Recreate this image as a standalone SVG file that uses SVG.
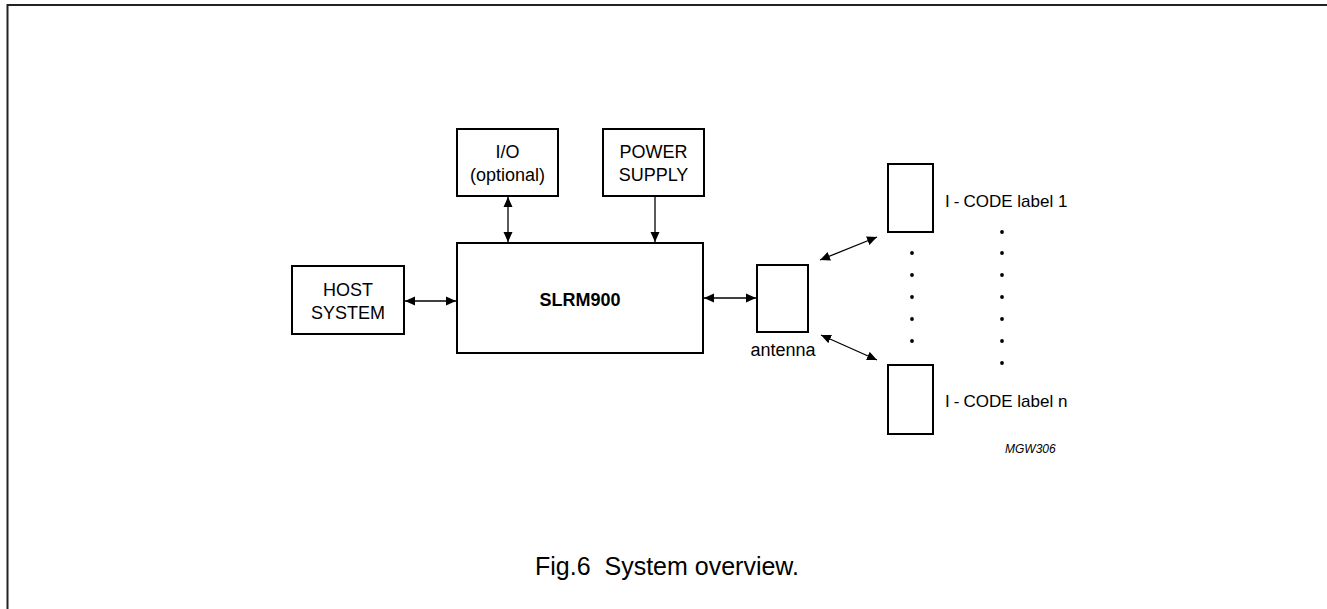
<svg xmlns="http://www.w3.org/2000/svg" width="1327" height="609" viewBox="0 0 1327 609">
<defs>
<style>
.box{fill:#fff;stroke:#000;stroke-width:2}
.t{font-family:"Liberation Sans",Arial,sans-serif;font-size:18px;fill:#000;text-anchor:middle}
.b{font-weight:bold}
.l{font-family:"Liberation Sans",Arial,sans-serif;font-size:17px;fill:#000}
.c{stroke:#000;stroke-width:1.3;fill:none}
.dot{fill:#000}
</style>
<marker id="ah" markerUnits="userSpaceOnUse" markerWidth="12" markerHeight="10" refX="10" refY="5" orient="auto-start-reverse" viewBox="0 0 12 10">
<path d="M0,0.5 L10,5 L0,9.5 Z" fill="#000"/>
</marker>
</defs>
<rect width="1327" height="609" fill="#fff"/>
<path d="M7.5,609 V5 H1327" fill="none" stroke="#222" stroke-width="2"/>

<g id="io">
<rect class="box" x="457" y="129" width="101" height="67"/>
<text class="t" x="507.5" y="158">I/O</text>
<text class="t" x="507.5" y="181">(optional)</text>
</g>
<g id="power">
<rect class="box" x="603" y="129" width="101" height="67"/>
<text class="t" x="653.5" y="158">POWER</text>
<text class="t" x="653.5" y="181">SUPPLY</text>
</g>
<g id="host">
<rect class="box" x="292" y="266" width="112" height="68"/>
<text class="t" x="348" y="296">HOST</text>
<text class="t" x="348" y="319">SYSTEM</text>
</g>
<g id="slrm900">
<rect class="box" x="457" y="243" width="246" height="110"/>
<text class="t b" x="580" y="306">SLRM900</text>
</g>
<g id="antenna">
<rect class="box" x="757" y="265" width="51" height="67"/>
<text class="t" x="783" y="356">antenna</text>
</g>
<g id="label1">
<rect class="box" x="888" y="164" width="45" height="68"/>
<text class="l" x="945" y="207">I<tspan dx="4">-</tspan><tspan dx="4">CODE label 1</tspan></text>
</g>
<g id="labeln">
<rect class="box" x="888" y="365" width="45" height="69"/>
<text class="l" x="945" y="407">I<tspan dx="4">-</tspan><tspan dx="4">CODE label n</tspan></text>
</g>

<g id="connectors">
<line class="c" x1="405" y1="301" x2="456" y2="301" marker-start="url(#ah)" marker-end="url(#ah)"/>
<line class="c" x1="508" y1="197" x2="508" y2="242" marker-start="url(#ah)" marker-end="url(#ah)"/>
<line class="c" x1="655" y1="196" x2="655" y2="242" marker-end="url(#ah)"/>
<line class="c" x1="704" y1="298" x2="756" y2="298" marker-start="url(#ah)" marker-end="url(#ah)"/>
<line class="c" x1="820" y1="260" x2="877" y2="237" marker-start="url(#ah)" marker-end="url(#ah)"/>
<line class="c" x1="821" y1="335" x2="877" y2="360" marker-start="url(#ah)" marker-end="url(#ah)"/>
</g>

<g id="dots">
<circle class="dot" cx="912" cy="253" r="1.9"/>
<circle class="dot" cx="912" cy="275" r="1.9"/>
<circle class="dot" cx="912" cy="297" r="1.9"/>
<circle class="dot" cx="912" cy="319" r="1.9"/>
<circle class="dot" cx="912" cy="341" r="1.9"/>
<circle class="dot" cx="1002" cy="232" r="1.9"/>
<circle class="dot" cx="1002" cy="253" r="1.9"/>
<circle class="dot" cx="1002" cy="275" r="1.9"/>
<circle class="dot" cx="1002" cy="297" r="1.9"/>
<circle class="dot" cx="1002" cy="319" r="1.9"/>
<circle class="dot" cx="1002" cy="341" r="1.9"/>
<circle class="dot" cx="1002" cy="363" r="1.9"/>
</g>

<text x="1005" y="453" font-family="Liberation Sans,Arial,sans-serif" font-size="12" font-style="italic">MGW306</text>
<text x="535" y="575" font-family="Liberation Sans,Arial,sans-serif" font-size="25" xml:space="preserve">Fig.6  System overview.</text>
</svg>
